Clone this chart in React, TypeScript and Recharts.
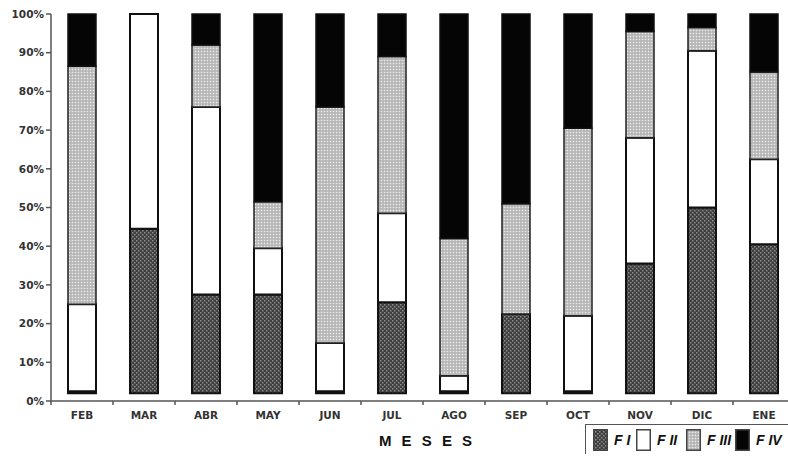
import React from 'react';
import { BarChart, Bar, XAxis, YAxis, Legend, Label } from 'recharts';

const months = ['FEB', 'MAR', 'ABR', 'MAY', 'JUN', 'JUL', 'AGO', 'SEP', 'OCT', 'NOV', 'DIC', 'ENE'];
// bars in the source start slightly above the 0% line
const baseline = [2, 2, 2, 2, 2, 2, 2, 2, 2, 2, 2, 2];
const fI = [0.5, 42.5, 25.5, 25.5, 0.5, 23.5, 0.5, 20.5, 0.5, 33.5, 48, 38.5];
const fII = [22.5, 55.5, 48.5, 12, 12.5, 23, 4, 0, 19.5, 32.5, 40.5, 22];
const fIII = [61.5, 0, 16, 12, 61, 40.5, 35.5, 28.5, 48.5, 27.5, 6, 22.5];
const fIV = [13.5, 0, 8, 48.5, 24, 11, 58, 49, 29.5, 4.5, 3.5, 15];
const yTicks = [0, 10, 20, 30, 40, 50, 60, 70, 80, 90, 100];
const seriesNames = ['F I', 'F II', 'F III', 'F IV'];

const data = months.map((m, i) => ({
  month: m,
  base: baseline[i],
  fI: fI[i],
  fII: fII[i],
  fIII: fIII[i],
  fIV: fIV[i],
}));

const fills = ['url(#patFI)', '#ffffff', 'url(#patFIII)', '#050505'];

const MonthTick = (props: any) => {
  const { x, y, payload } = props;
  const axisY = y - 11;
  return (
    <g>
      <line x1={x - 31} y1={axisY} x2={x - 31} y2={axisY + 4} stroke="#555" strokeWidth={1.5} />
      <text
        x={x}
        y={y}
        dy="0.71em"
        textAnchor="middle"
        fontFamily="DejaVu Sans"
        fontWeight="bold"
        fontSize={10.5}
        fill="#333"
      >
        {payload.value}
      </text>
    </g>
  );
};

const itemWidths = [43, 50, 49, 52];

const renderLegend = () => (
  <div
    style={{
      display: 'flex',
      alignItems: 'center',
      borderTop: '1.5px solid #555',
      borderLeft: '1.5px solid #555',
      background: '#fff',
      height: 30,
      paddingLeft: 7,
      width: 210,
      boxSizing: 'border-box',
      whiteSpace: 'nowrap',
    }}
  >
    {seriesNames.map((n, i) => (
      <div key={n} style={{ display: 'flex', alignItems: 'center', width: itemWidths[i] }}>
        <svg width={15} height={22} style={{ display: 'block' }}>
          <rect x={0.75} y={0.75} width={13.5} height={20.5} fill={fills[i]} stroke="#444" strokeWidth={1.5} />
        </svg>
        <span
          style={{
            marginLeft: 6,
            fontFamily: 'Liberation Sans, Arial, sans-serif',
            fontStyle: 'italic',
            fontWeight: 'bold',
            fontSize: 14,
            color: '#111',
          }}
        >
          {n}
        </span>
      </div>
    ))}
  </div>
);

export default function App() {
  return (
    <div
      style={{
        position: 'absolute',
        left: 0,
        top: 0,
        width: 788,
        height: 457,
        overflow: 'hidden',
        background: '#fff',
      }}
    >
      <BarChart
        width={800}
        height={457}
        data={data}
        margin={{ top: 14, right: 5, left: 0, bottom: 26 }}
        barSize={28}
      >
        <defs>
          <pattern id="patFI" width={4} height={4} patternUnits="userSpaceOnUse">
            <rect width={4} height={4} fill="#3e3e3e" />
            <rect x={0} y={0} width={1.5} height={1.5} fill="#8c8c8c" />
            <rect x={2} y={2} width={1.5} height={1.5} fill="#8c8c8c" />
          </pattern>
          <pattern id="patFIII" width={3} height={3} patternUnits="userSpaceOnUse">
            <rect width={3} height={3} fill="#c2c2c2" />
            <rect x={0} y={0} width={1} height={1} fill="#ececec" />
            <rect x={1.5} y={1.5} width={1} height={1} fill="#959595" />
          </pattern>
        </defs>
        <XAxis
          dataKey="month"
          height={30}
          interval={0}
          tickSize={4}
          tickMargin={7}
          tickLine={{ stroke: 'transparent' }}
          axisLine={{ stroke: '#555', strokeWidth: 1.5 }}
          tick={<MonthTick />}
        >
          <Label
            value="M E S E S"
            position="bottom"
            offset={4}
            dx={4}
            fill="#111"
            style={{ fontFamily: 'Liberation Sans, Arial, sans-serif', fontWeight: 'bold', fontSize: 15, letterSpacing: 3 }}
          />
        </XAxis>
        <YAxis
          width={51}
          domain={[0, 100]}
          ticks={yTicks}
          interval={0}
          tickFormatter={(v: number) => `${v}%`}
          tickSize={5}
          tickMargin={2}
          axisLine={{ stroke: '#555', strokeWidth: 1.5 }}
          tickLine={{ stroke: '#555', strokeWidth: 1.5 }}
          tick={{ fontFamily: 'DejaVu Sans', fontWeight: 'bold', fontSize: 10.5, fill: '#333' }}
        />
        <Legend
          layout="horizontal"
          verticalAlign="middle"
          align="center"
          wrapperStyle={{ left: 585, top: 424, width: 210 }}
          content={renderLegend}
        />
        <Bar dataKey="base" stackId="a" fill="transparent" stroke="none" isAnimationActive={false} legendType="none" />
        <Bar dataKey="fI" name="F I" stackId="a" fill={fills[0]} stroke="#111" strokeWidth={2} isAnimationActive={false} />
        <Bar dataKey="fII" name="F II" stackId="a" fill={fills[1]} stroke="#111" strokeWidth={2} isAnimationActive={false} />
        <Bar dataKey="fIII" name="F III" stackId="a" fill={fills[2]} stroke="#222" strokeWidth={1.5} isAnimationActive={false} />
        <Bar dataKey="fIV" name="F IV" stackId="a" fill={fills[3]} stroke="#111" strokeWidth={1.5} isAnimationActive={false} />
      </BarChart>
    </div>
  );
}
